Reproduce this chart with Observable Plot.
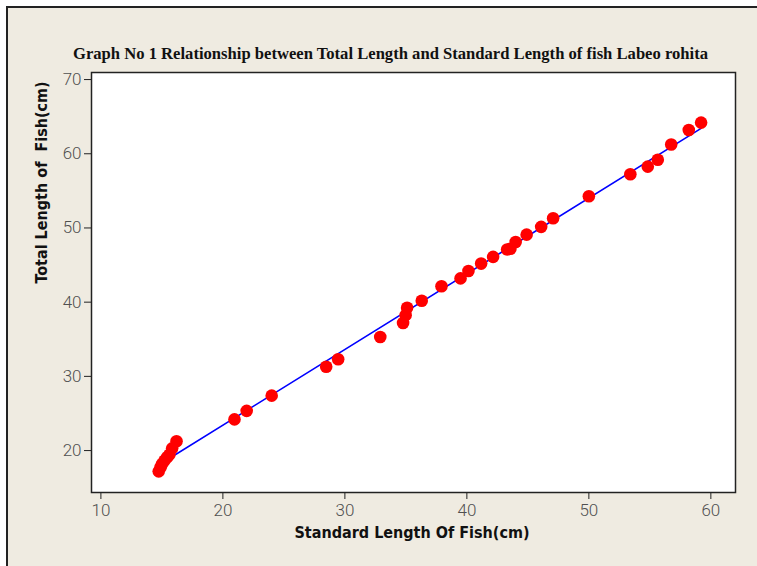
<!DOCTYPE html>
<html><head><meta charset="utf-8">
<script src="https://cdn.jsdelivr.net/npm/d3@7"></script>
<script src="https://cdn.jsdelivr.net/npm/@observablehq/plot@0.6"></script>
<style>
html,body{margin:0;padding:0;background:#fff;width:757px;height:566px;overflow:hidden}
#bg{position:absolute;left:6px;top:6px;width:780px;height:600px;background:#EFEBE1;border-left:2px solid #222;border-top:2px solid #222}
#chart{position:absolute;left:0;top:0}
svg text{white-space:pre}
g[aria-label="x-axis tick label"] text, g[aria-label="y-axis tick label"] text{fill:#505050;font-weight:300}
</style></head><body><div id="bg"></div><div id="chart"></div>
<script>
const title = "Graph No 1 Relationship between Total Length and Standard Length of fish Labeo rohita";
const xLabel = "Standard Length Of Fish(cm)";
const yLabel = "Total Length of  Fish(cm)";
const xTicks = [10, 20, 30, 40, 50, 60];
const yTicks = [20, 30, 40, 50, 60, 70];
const standardLength = [14.74, 14.89, 15.02, 15.21, 15.43, 15.62, 15.84, 16.2, 20.95, 21.95, 24.0, 28.47, 29.45, 32.9, 34.77, 34.98, 35.1, 36.3, 37.92, 39.48, 40.13, 41.17, 42.15, 43.3, 43.57, 44.0, 44.9, 46.09, 47.07, 50.0, 53.4, 54.83, 55.65, 56.75, 58.19, 59.2];
const totalLength =    [17.2, 17.75, 18.2, 18.65, 19.1, 19.46, 20.3, 21.25, 24.2, 25.35, 27.4, 31.3, 32.3, 35.3, 37.2, 38.25, 39.25, 40.2, 42.15, 43.2, 44.2, 45.2, 46.1, 47.1, 47.2, 48.1, 49.1, 50.15, 51.3, 54.27, 57.24, 58.27, 59.2, 61.24, 63.2, 64.2];

const points = standardLength.map((sl, i) => ({sl, tl: totalLength[i]}));

const plot = Plot.plot({
  width: 757, height: 566,
  marginLeft: 91, marginRight: 22, marginTop: 72, marginBottom: 74,
  style: {background: "transparent", fontFamily: "Roboto, 'Liberation Sans', sans-serif", fontSize: "17px", color: "#222", overflow: "visible"},
  x: {domain: [9.23, 62.02]},
  y: {domain: [14.35, 70.95]},
  marks: [
    Plot.frame({fill: "white", stroke: null}),
    Plot.axisX({ticks: xTicks, tickSize: 7, tickPadding: 4, label: null}),
    Plot.axisY({ticks: yTicks, tickSize: 7, tickPadding: 3, label: null}),
    Plot.linearRegressionY(points, {x: "sl", y: "tl", stroke: "#0000ff", strokeWidth: 1.6, ci: 0}),
    Plot.dot(points, {x: "sl", y: "tl", r: 6.3, fill: "#ff0000", stroke: null}),
    Plot.frame({stroke: "#222", strokeWidth: 1.5}),
    Plot.text([title], {text: d => d, frameAnchor: "top", dx: -23, dy: -25, fontWeight: "bold", fontFamily: "'Liberation Serif', 'Times New Roman', serif", fontSize: 16, fill: "#111"}),
    Plot.text([xLabel], {text: d => d, frameAnchor: "bottom", dx: -1.5, dy: 45, fontWeight: "bold", fontFamily: "'DejaVu Sans Condensed', 'DejaVu Sans', sans-serif", fontSize: 16, fill: "#111"}),
    Plot.text([yLabel], {text: d => d, frameAnchor: "left", dx: -49.5, dy: 1, rotate: -90, fontWeight: "bold", fontFamily: "'DejaVu Sans Condensed', 'DejaVu Sans', sans-serif", fontSize: 16, fill: "#111"})
  ]
});
document.getElementById("chart").appendChild(plot);
// squeeze the title to the reference width
d3.select(plot).selectAll("text").filter(function() { return this.textContent === title; })
  .attr("textLength", 635).attr("lengthAdjust", "spacingAndGlyphs");
</script></body></html>
